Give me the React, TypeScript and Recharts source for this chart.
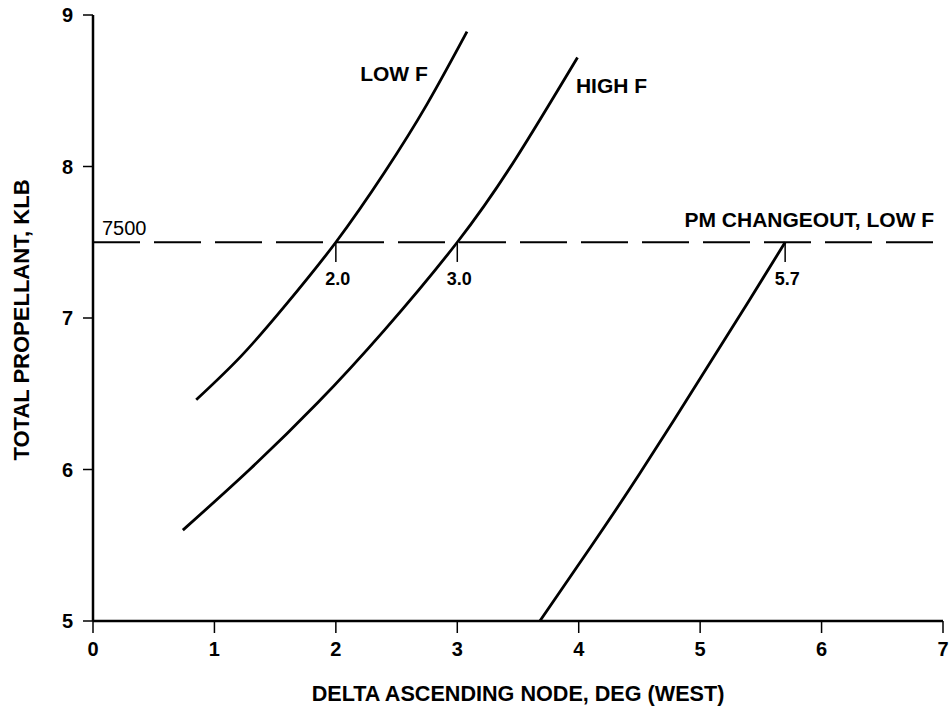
import React from 'react';
import {
  LineChart,
  Line,
  XAxis,
  YAxis,
  ReferenceLine,
  ReferenceDot,
  Label,
} from 'recharts';

// propellant (klb) vs delta ascending node (deg west)
const xTicks = [0, 1, 2, 3, 4, 5, 6, 7];
const yTicks = [5, 6, 7, 8, 9];

const lowF = [
  { x: 0.85, y: 6.46 },
  { x: 1.21, y: 6.74 },
  { x: 1.57, y: 7.07 },
  { x: 2.0, y: 7.5 },
  { x: 2.4, y: 7.96 },
  { x: 2.75, y: 8.41 },
  { x: 3.08, y: 8.89 },
];

const highF = [
  { x: 0.74, y: 5.6 },
  { x: 1.29, y: 6.0 },
  { x: 1.85, y: 6.44 },
  { x: 2.4, y: 6.92 },
  { x: 3.0, y: 7.5 },
  { x: 3.48, y: 8.05 },
  { x: 3.99, y: 8.72 },
];

const pmChangeout = [
  { x: 3.68, y: 5.0 },
  { x: 4.1, y: 5.49 },
  { x: 4.5, y: 5.97 },
  { x: 5.0, y: 6.6 },
  { x: 5.4, y: 7.11 },
  { x: 5.7, y: 7.5 },
];

const limitKlb = 7.5;
const crossingValues = [2.0, 3.0, 5.7];
const crossingLabels = ['2.0', '3.0', '5.7'];

const FONT = "'Liberation Sans', Arial, Helvetica, sans-serif";
const INK = '#000';
const markerBottom = 7.37;

// text annotations, anchored in data units
const annotations = [
  { text: 'LOW F', x: 2.2, y: 8.566, anchor: 'start', weight: 700, size: 21 },
  { text: 'HIGH F', x: 3.977, y: 8.485, anchor: 'start', weight: 700, size: 21 },
  { text: 'PM CHANGEOUT, LOW F', x: 6.927, y: 7.603, anchor: 'end', weight: 700, size: 21 },
  { text: '7500', x: 0.074, y: 7.548, anchor: 'start', weight: 400, size: 20 },
];

const tickStyle = { fill: INK, fontSize: 20, fontWeight: 700, fontFamily: FONT };

export default function App() {
  return (
    <div style={{ position: 'absolute', left: 0, top: 0, background: '#fff' }}>
      <LineChart
        width={950}
        height={711}
        margin={{ top: 15, right: 7, bottom: 30, left: 0 }}
      >
        <XAxis
          type="number"
          dataKey="x"
          domain={[0, 7]}
          ticks={xTicks}
          allowDataOverflow
          height={60}
          tick={tickStyle}
          tickSize={12}
          tickMargin={9}
          axisLine={{ stroke: INK, strokeWidth: 2.5 }}
          tickLine={{ stroke: INK, strokeWidth: 1.5 }}
        >
          <Label
            content={(p: any) => {
              const vb = p.viewBox;
              return (
                <text
                  x={vb.x + vb.width / 2}
                  y={vb.y + 80}
                  textAnchor="middle"
                  fill={INK}
                  fontSize={21.6}
                  fontWeight={700}
                  fontFamily={FONT}
                >
                  DELTA ASCENDING NODE, DEG (WEST)
                </text>
              );
            }}
          />
        </XAxis>
        <YAxis
          type="number"
          domain={[5, 9]}
          ticks={yTicks}
          allowDataOverflow
          width={93}
          tick={tickStyle}
          tickSize={10}
          tickMargin={10}
          axisLine={{ stroke: INK, strokeWidth: 2.5 }}
          tickLine={{ stroke: INK, strokeWidth: 1.5 }}
        >
          <Label
            content={(p: any) => {
              const vb = p.viewBox;
              const x = vb.x + 29;
              const y = vb.y + vb.height / 2 + 2;
              return (
                <text
                  x={x}
                  y={y}
                  transform={`rotate(-90, ${x}, ${y})`}
                  textAnchor="middle"
                  fill={INK}
                  fontSize={22}
                  fontWeight={700}
                  fontFamily={FONT}
                >
                  TOTAL PROPELLANT, KLB
                </text>
              );
            }}
          />
        </YAxis>

        <ReferenceLine
          y={limitKlb}
          stroke={INK}
          strokeWidth={2}
          strokeDasharray="47 14"
        />

        {crossingValues.map((v, i) => (
          <ReferenceLine
            key={`tick-${i}`}
            segment={[
              { x: v, y: limitKlb },
              { x: v, y: markerBottom },
            ]}
            stroke={INK}
            strokeWidth={1.5}
          />
        ))}
        {crossingValues.map((v, i) => (
          <ReferenceDot
            key={`lbl-${i}`}
            x={v}
            y={markerBottom}
            r={0}
            fill="none"
            stroke="none"
            ifOverflow="visible"
            label={(p: any) => (
              <text
                x={p.viewBox.x + 2}
                y={p.viewBox.y + 23}
                textAnchor="middle"
                fill={INK}
                fontSize={18}
                fontWeight={700}
                fontFamily={FONT}
              >
                {crossingLabels[i]}
              </text>
            )}
          />
        ))}

        <Line
          data={lowF}
          dataKey="y"
          type="natural"
          stroke={INK}
          strokeWidth={2.8}
          dot={false}
          activeDot={false}
          isAnimationActive={false}
        />
        <Line
          data={highF}
          dataKey="y"
          type="natural"
          stroke={INK}
          strokeWidth={2.8}
          dot={false}
          activeDot={false}
          isAnimationActive={false}
        />
        <Line
          data={pmChangeout}
          dataKey="y"
          type="natural"
          stroke={INK}
          strokeWidth={2.8}
          dot={false}
          activeDot={false}
          isAnimationActive={false}
        />

        {annotations.map((a, i) => (
          <ReferenceDot
            key={`ann-${i}`}
            x={a.x}
            y={a.y}
            r={0}
            fill="none"
            stroke="none"
            ifOverflow="visible"
            label={(p: any) => (
              <text
                x={p.viewBox.x}
                y={p.viewBox.y}
                textAnchor={a.anchor}
                fill={INK}
                fontSize={a.size}
                fontWeight={a.weight}
                fontFamily={FONT}
              >
                {a.text}
              </text>
            )}
          />
        ))}
      </LineChart>
    </div>
  );
}
